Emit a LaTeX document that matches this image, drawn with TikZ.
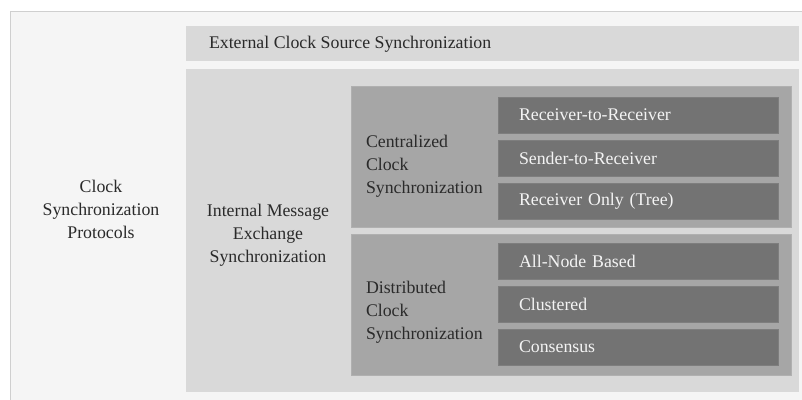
\documentclass[tikz,border=0pt]{standalone}
\usepackage{fontspec}
\setmainfont{Liberation Serif}
\usetikzlibrary{positioning}

\definecolor{framebg}{HTML}{F5F5F5}
\definecolor{frameline}{HTML}{CFCFCF}
\definecolor{bandgray}{HTML}{D9D9D9}
\definecolor{groupgray}{HTML}{A6A6A6}
\definecolor{groupline}{HTML}{B0B0B0}
\definecolor{leafgray}{HTML}{737373}
\definecolor{leafline}{HTML}{7E7E7E}
\definecolor{textdark}{HTML}{2A2A2A}
\definecolor{textlight}{HTML}{F4F4F4}

\begin{document}
\begin{tikzpicture}[
    x=1pt, y=-1pt,
    every node/.style={inner sep=0pt, outer sep=0pt, text=textdark, font=\fontsize{17.8}{23}\selectfont},
    frame/.style={anchor=north west, draw=frameline, fill=framebg, minimum width=800pt, minimum height=400pt},
    band/.style={anchor=north west, fill=bandgray, minimum width=613pt},
    group/.style={anchor=north west, draw=groupline, fill=groupgray, minimum width=440pt, minimum height=141pt},
    leaf/.style={anchor=north west, draw=leafline, fill=leafgray, text=textlight, text width=238pt, inner xsep=21pt, minimum height=36pt, align=left},
    label/.style={align=center}
]
\useasboundingbox (0,0) rectangle (802,399);
\clip (0,0) rectangle (802,399);

\node[frame] (frame) at (10,11) {};
\node[band, minimum height=35pt] (ext) at (186,26) {};
\node[band, minimum height=323pt] (int) at (186,69) {};
\node[group] (cen) at (351,86) {};
\node[group, below=7pt of cen] (dist) {};

% leaves
\node[leaf] (r2r) at (498,97) {Receiver-to-Receiver};
\node[leaf, below=7pt of r2r] (s2r) {Sender-to-Receiver};
\node[leaf, below=7pt of s2r] (ronly) {Receiver Only (Tree)};
\node[leaf] (allnode) at (498,243) {All-Node Based};
\node[leaf, below=7pt of allnode] (clus) {Clustered};
\node[leaf, below=7pt of clus] (cons) {Consensus};

% labels
\node[label] (protlbl) at (101,209) {Clock\\Synchronization\\Protocols};
\node[anchor=west] (extlbl) at (209,44) {External Clock Source Synchronization};
\node[label] (intlbl) at (268,235) {Internal Message\\Exchange\\Synchronization};
\node[anchor=west, align=left] (cenlbl) at (366,166) {Centralized\\Clock\\Synchronization};
\node[anchor=west, align=left] (distlbl) at (366,312) {Distributed\\Clock\\Synchronization};
\end{tikzpicture}
\end{document}
